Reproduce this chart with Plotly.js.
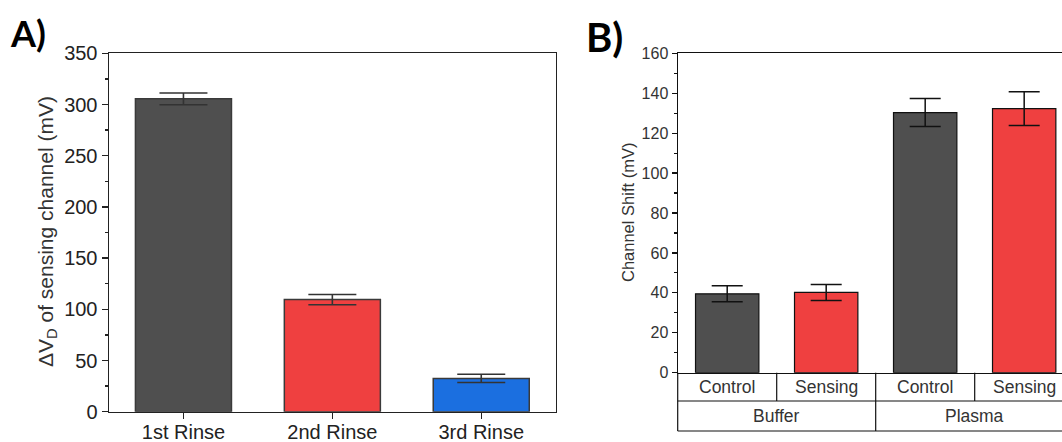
<!DOCTYPE html>
<html><head><meta charset="utf-8">
<script src="https://cdn.plot.ly/plotly-3.0.1.min.js"></script>
<style>html,body{margin:0;padding:0;overflow:hidden;background:#fff}</style>
</head><body><div id="chart" style="width:1062px;height:442px"></div>
<script>
// Panel A data
const rinseLabels = ['1st Rinse', '2nd Rinse', '3rd Rinse'];
const rinseValues = [305.5, 109.5, 32.5];
const rinseErrors = [5.7, 5, 4];
const rinseColors = ['#4f4f4f', '#ef4040', '#1b6fe0'];

// Panel B data
const shiftInner = ['Control', 'Sensing', 'Control', 'Sensing'];
const shiftGroupOf = ['Buffer', 'Buffer', 'Plasma', 'Plasma'];
const shiftGroups = ['Buffer', 'Plasma'];
const shiftValues = [39.5, 40.2, 130.3, 132.3];
const shiftErrors = [4, 4, 7, 8.5];
const shiftColors = ['#4f4f4f', '#ef4040', '#4f4f4f', '#ef4040'];

const W = 1062, H = 442;
const fx = p => p / W;
const fy = p => 1 - p / H;
const FONT = '"Liberation Sans", Arial, sans-serif';

const xIdx = shiftInner.map((_, i) => i);

const traces = [
  {
    type: 'bar', x: rinseLabels, y: rinseValues, xaxis: 'x', yaxis: 'y',
    width: 0.645,
    marker: {color: rinseColors, line: {color: '#3a3a3a', width: 1.5}},
    error_y: {type: 'data', array: rinseErrors, visible: true, color: '#333', thickness: 1.6, width: 24},
    hoverinfo: 'x+y', showlegend: false
  },
  {
    type: 'bar', x: xIdx, y: shiftValues, xaxis: 'x2', yaxis: 'y2',
    width: 0.64,
    marker: {color: shiftColors, line: {color: '#111', width: 1.2}},
    error_y: {type: 'data', array: shiftErrors, visible: true, color: '#111', thickness: 1.5, width: 15.5},
    hoverinfo: 'y', showlegend: false
  }
];

// table lines beneath panel B
const yAxisB = 372.7, yRowSep = 401, yBottom = 431;
const shapes = [];
const lineB = {color: '#111', width: 1.2};
[yRowSep, yBottom].forEach(py => {
  shapes.push({type: 'line', xref: 'paper', yref: 'paper', x0: fx(677.7), x1: 1, y0: fy(py), y1: fy(py), line: lineB});
});
shapes.push({type: 'line', xref: 'paper', yref: 'paper', x0: fx(677.7), x1: fx(677.7), y0: fy(yAxisB), y1: fy(yBottom), line: lineB});
for (let k = 1; k <= shiftInner.length; k++) {
  const isGroupEdge = k === shiftInner.length || shiftGroupOf[k] !== shiftGroupOf[k - 1];
  shapes.push({type: 'line', xref: 'x2', yref: 'paper', x0: k - 0.5, x1: k - 0.5,
    y0: fy(yAxisB), y1: fy(isGroupEdge ? yBottom : yRowSep), line: lineB});
}

const annotations = [
  {text: '<b>A)</b>', xref: 'paper', yref: 'paper', x: fx(8), y: fy(33), xanchor: 'left', yanchor: 'middle',
   showarrow: false, font: {family: 'Lato, "Open Sans", sans-serif', size: 36, color: '#000'}},
  {text: '<b>B)</b>', xref: 'paper', yref: 'paper', x: fx(584), y: fy(37), xanchor: 'left', yanchor: 'middle',
   showarrow: false, font: {family: 'Lato, "Open Sans", sans-serif', size: 40, color: '#000'}},
  {text: 'ΔV<sub>D</sub> of sensing channel (mV)', xref: 'paper', yref: 'paper', x: fx(47), y: fy(232),
   xanchor: 'center', yanchor: 'middle', textangle: -90, showarrow: false,
   font: {family: FONT, size: 21, color: '#333'}},
  {text: 'Channel Shift (mV)', xref: 'paper', yref: 'paper', x: fx(628), y: fy(213),
   xanchor: 'center', yanchor: 'middle', textangle: -90, showarrow: false,
   font: {family: FONT, size: 16.5, color: '#333'}}
];
shiftInner.forEach((lab, i) => {
  annotations.push({text: lab, xref: 'x2', yref: 'paper', x: i, y: fy(386.7), xanchor: 'center', yanchor: 'middle',
    showarrow: false, font: {family: FONT, size: 17.5, color: '#333'}});
});
shiftGroups.forEach(g => {
  const idx = xIdx.filter(i => shiftGroupOf[i] === g);
  const mid = (idx[0] + idx[idx.length - 1]) / 2;
  annotations.push({text: g, xref: 'x2', yref: 'paper', x: mid, y: fy(416), xanchor: 'center', yanchor: 'middle',
    showarrow: false, font: {family: FONT, size: 17.5, color: '#333'}});
});

const layout = {
  width: W, height: H,
  margin: {l: 0, r: 0, t: 0, b: 0},
  paper_bgcolor: '#fff', plot_bgcolor: '#fff',
  font: {family: FONT, color: '#222'},
  showlegend: false,
  xaxis: {
    domain: [fx(109), fx(555.7)], anchor: 'y', type: 'category', range: [-0.5, 2.5],
    showline: true, linecolor: '#222', linewidth: 1.5, mirror: true,
    ticks: 'outside', ticklen: 6, tickwidth: 1.5, tickcolor: '#222',
    ticklabelstandoff: -4,
    showgrid: false, zeroline: false,
    tickfont: {family: FONT, size: 20, color: '#222'}
  },
  yaxis: {
    domain: [fy(411.7), fy(53.3)], anchor: 'x', range: [0, 350], tick0: 0, dtick: 50,
    showline: true, linecolor: '#222', linewidth: 1.5, mirror: true,
    ticks: 'outside', ticklen: 6, tickwidth: 1.5, tickcolor: '#222',
    minor: {ticks: 'outside', ticklen: 3, tickwidth: 1.5, tickcolor: '#222', dtick: 25, showgrid: false},
    showgrid: false, zeroline: false,
    tickfont: {family: FONT, size: 20, color: '#222'}
  },
  xaxis2: {
    domain: [fx(677.7), 1], anchor: 'y2', range: [-0.5, 3.382],
    showline: true, linecolor: '#111', linewidth: 1.2, mirror: true,
    ticks: '', showticklabels: false, showgrid: false, zeroline: false
  },
  yaxis2: {
    domain: [fy(372.7), fy(53.3)], anchor: 'x2', range: [0, 160], tick0: 0, dtick: 20,
    showline: true, linecolor: '#111', linewidth: 1.2, mirror: false,
    ticks: 'outside', ticklen: 5, tickwidth: 1.2, tickcolor: '#111',
    minor: {ticks: 'outside', ticklen: 3, tickwidth: 1.2, tickcolor: '#111', dtick: 10, showgrid: false},
    showgrid: false, zeroline: false,
    tickfont: {family: FONT, size: 16, color: '#333'}
  },
  shapes: shapes,
  annotations: annotations,
  bargap: 0.3
};

Plotly.newPlot('chart', traces, layout, {displayModeBar: false, staticPlot: true});
</script>
</body></html>
